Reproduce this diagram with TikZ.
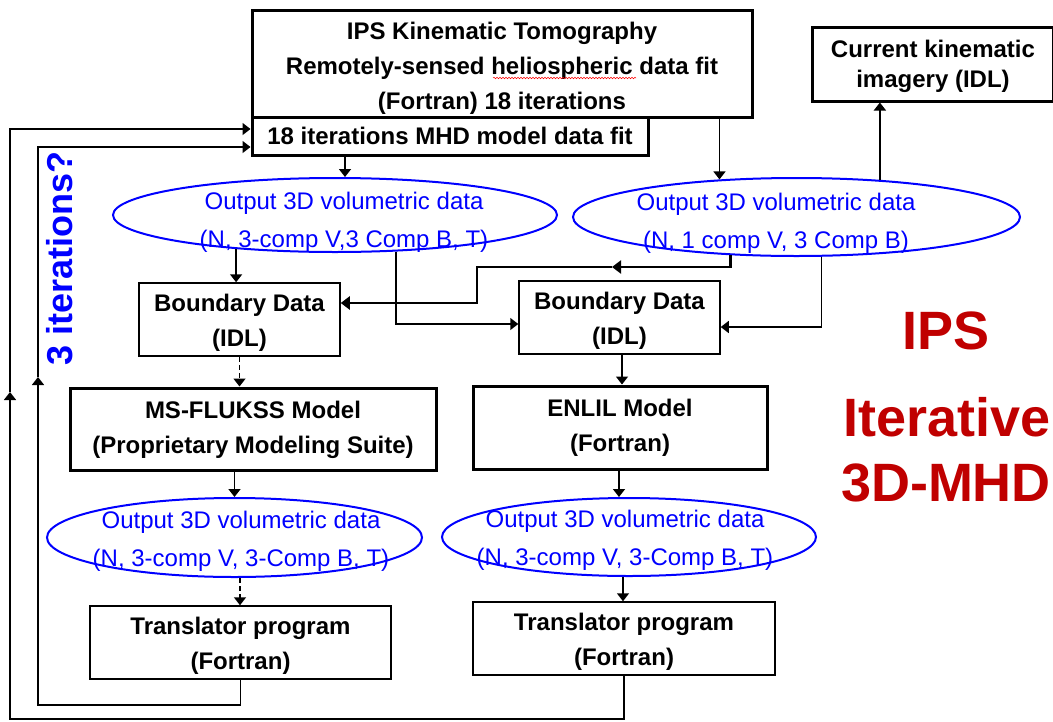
\documentclass[tikz,border=0pt]{standalone}
\usepackage{fontspec}
\setmainfont{Liberation Sans}
\usetikzlibrary{arrows.meta,shapes.geometric,decorations.pathmorphing}
\definecolor{ipsred}{RGB}{192,0,0}
\newcommand\boxfnt{\fontsize{24}{35}\selectfont\bfseries}
\newcommand\curfnt{\fontsize{24}{30}\selectfont\bfseries}
\newcommand\ovalfnt{\fontsize{24}{38}\selectfont}
\newcommand\bigfnt{\fontsize{54}{60}\selectfont\bfseries}
\tikzset{
  thickbox/.style={draw, line width=3pt, inner sep=0pt, font=\boxfnt, align=center, fill=white},
  thinbox/.style={draw, line width=1.5pt, inner sep=0pt, font=\boxfnt, align=center},
  boxtext/.style={font=\boxfnt, align=center, inner sep=0pt},
  oval/.style={draw=blue, ellipse, line width=2pt, inner sep=0pt},
  ovaltext/.style={text=blue, font=\ovalfnt, align=center, inner sep=0pt},
  arr/.style={line width=1.5pt, -{Triangle[length=8pt,width=12pt]}},
  arrbold/.style={line width=2.5pt, -{Triangle[length=9pt,width=13pt]}},
  dashedline/.style={dash pattern=on 5pt off 3pt},
  bigred/.style={text=ipsred, font=\bigfnt, inner sep=0pt},
}
\begin{document}
\begin{tikzpicture}[x=1pt,y=-1pt]
\useasboundingbox (0,0) rectangle (1053,721);

% boxes
\node[thickbox, minimum width=500pt, minimum height=107pt] (ips) at (502,63.5) {};
\node[boxtext] (ipst) at (502,68)
  {IPS Kinematic Tomography\\Remotely-sensed heliospheric data fit\\(Fortran) 18 iterations};
\node[thickbox, minimum width=396pt, minimum height=38pt] (mhd) at (450,136)
  {18 iterations MHD model data fit};
\node[thickbox, minimum width=241pt, minimum height=74pt] (cur) at (932.5,64) {};
\node[boxtext, font=\curfnt] (curt) at (933,66) {Current kinematic\\imagery (IDL)};

\node[oval, minimum width=444pt, minimum height=74pt] (e1) at (335,215) {};
\node[ovaltext] (e1t) at (344,222) {Output 3D volumetric data\\(N, 3-comp V,3 Comp B, T)};
\node[oval, minimum width=447pt, minimum height=78pt] (e2) at (796.5,217) {};
\node[ovaltext] (e2t) at (776,223) {Output 3D volumetric data\\(N, 1 comp V, 3 Comp B)};

\node[thinbox, minimum width=201pt, minimum height=73pt] (b1) at (239.5,319.5) {};
\node[boxtext] (b1t) at (239.5,323) {Boundary Data\\(IDL)};
\node[thinbox, minimum width=201pt, minimum height=73pt] (b2) at (619.5,317.5) {};
\node[boxtext] (b2t) at (619.5,321) {Boundary Data\\(IDL)};

\node[thickbox, minimum width=366pt, minimum height=82pt] (ms) at (253,429) {};
\node[boxtext] (mst) at (253,430) {MS-FLUKSS Model\\(Proprietary Modeling Suite)};
\node[thickbox, minimum width=294pt, minimum height=83pt] (en) at (620,427.5) {};
\node[boxtext] (ent) at (620,427.5) {ENLIL Model\\(Fortran)};

\node[oval, minimum width=375pt, minimum height=79pt] (e3) at (234.5,537.5) {};
\node[ovaltext] (e3t) at (241,541) {Output 3D volumetric data\\(N, 3-comp V, 3-Comp B, T)};
\node[oval, minimum width=374pt, minimum height=78pt] (e4) at (629,537) {};
\node[ovaltext] (e4t) at (625,540) {Output 3D volumetric data\\(N, 3-comp V, 3-Comp B, T)};

\node[thinbox, minimum width=301pt, minimum height=73pt] (t1) at (240.5,642.5) {};
\node[boxtext] (t1t) at (240.5,646) {Translator program\\(Fortran)};
\node[thinbox, minimum width=302pt, minimum height=73pt] (t2) at (624,638.5) {};
\node[boxtext] (t2t) at (624,641.5) {Translator program\\(Fortran)};

% titles
\node[bigred] (tipS) at (946,331) {IPS};
\node[bigred] (tit) at (947,417) {Iterative};
\node[bigred] (tmhd) at (946,483) {3D-MHD};
\node[text=blue, font=\fontsize{36}{40}\selectfont\bfseries, rotate=90, inner sep=0pt] (iter) at (60,258) {3 iterations?};

% spell-check squiggle
\draw[red, line width=0.5pt, decorate, decoration={snake, amplitude=0.8pt, segment length=3pt}] (493,78) -- (636,78);

% helper coordinates
\coordinate (xa) at (345,0);
\coordinate (xb) at (622,0);
\coordinate (xc) at (619,0);
\coordinate (xd) at (240,0);
\coordinate (xe) at (623,0);
\coordinate (m1) at (612,267);
\coordinate (k1) at (477,267);
\coordinate (k2) at (477,303);
\coordinate (f1) at (38,705);
\coordinate (f2) at (38,377);
\coordinate (g1) at (10,719);
\coordinate (g2) at (10,392);

% connectors
\draw[arr] (mhd.south -| xa) -- (e1.north -| xa);
\draw[arr] (e2.154 |- ips.south) -- (e2.154);
\draw[arr] (e2.24) -- (e2.24 |- cur.south);
\draw[arr] (e1.199) -- (e1.199 |- b1.north);
\draw[arr] (e1.329) |- ([yshift=-6.5pt]b2.west);
\draw[arrbold] (e2.210) |- (m1);
\draw[arrbold] (m1) -- (k1) -- (k2) -- ([yshift=16.5pt]b1.east);
\draw[arr] (e2.302) |- ([yshift=-9.5pt]b2.east);
\draw[arr] (b2.south -| xb) -- (en.north -| xb);
\draw[arr, dashedline] (b1.south) -- (b1.south |- ms.north);
\draw[arr] (ms.south -| e3.north) -- (e3.north);
\draw[arr] (en.south -| xc) -- (e4.north -| xc);
\draw[arr, dashedline] (e3.south -| xd) -- (t1.north -| xd);
\draw[arr] (e4.south -| xe) -- (t2.north -| xe);

% feedback loops
\draw[arr] (t1.south) |- (f1) -- (f2);
\draw[arr] (f2) |- ([yshift=-11pt]mhd.west);
\draw[arr] (t2.south) |- (g1) -- (g2);
\draw[arr] (g2) |- ([yshift=7pt]mhd.west);
\end{tikzpicture}
\end{document}
